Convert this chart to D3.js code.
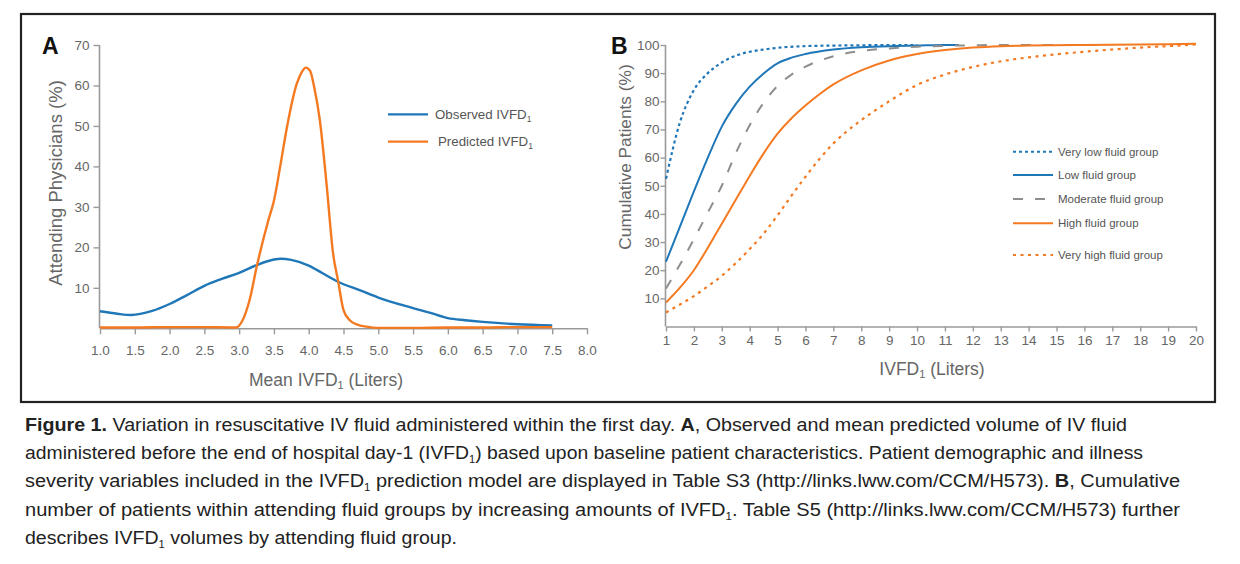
<!DOCTYPE html>
<html><head><meta charset="utf-8">
<script src="https://cdn.jsdelivr.net/npm/d3@7"></script>
<style>body{margin:0;background:#fff}svg{display:block}text{font-family:"Liberation Sans",Arial,sans-serif}</style>
</head><body><svg id="c" width="1240" height="564"></svg>
<script>
// Panel A data
const aXTicks = [1.0,1.5,2.0,2.5,3.0,3.5,4.0,4.5,5.0,5.5,6.0,6.5,7.0,7.5,8.0];
const aYTicks = [10,20,30,40,50,60,70];
const observedX = [1.0,1.25,1.45,1.75,2.0,2.25,2.5,2.75,3.0,3.25,3.5,3.6,3.75,4.0,4.2,4.42,4.75,5.0,5.5,5.75,6.0,6.25,6.5,7.0,7.5];
const observedY = [4.2,3.6,3.3,4.3,6.0,8.2,10.5,12.2,13.7,15.6,17.0,17.2,16.9,15.5,13.6,11.5,9.3,7.6,5.0,3.8,2.5,2.0,1.6,1.0,0.7];
const predictedX = [1.0,1.5,2.0,2.5,2.95,3.05,3.15,3.26,3.42,3.5,3.6,3.68,3.83,3.9,3.96,4.02,4.08,4.16,4.26,4.35,4.42,4.5,4.59,4.7,4.83,5.0,5.5,6.0,6.5,7.0,7.5];
const predictedY = [0.2,0.2,0.3,0.3,0.2,2.0,7.0,15.8,26.7,31.5,41,49,60.5,63.3,64.4,63.6,59.5,51.4,35,18.5,11.9,4.5,2.0,0.9,0.4,0.1,0.1,0.2,0.2,0.3,0.3];
const aSeries = ["Observed IVFD","Predicted IVFD"];

// Panel B data
const bXTicks = [1,2,3,4,5,6,7,8,9,10,11,12,13,14,15,16,17,18,19,20];
const bYTicks = [10,20,30,40,50,60,70,80,90,100];
const bGroups = ["Very low fluid group","Low fluid group","Moderate fluid group","High fluid group","Very high fluid group"];
const veryLowX = [1,1.5,2,2.5,3,3.5,4,4.5,5,6,7,8,9,10];
const veryLowY = [52.5,72.5,84,90,93.8,96.2,97.6,98.4,99.0,99.6,99.8,99.9,100,100];
const lowX = [1,1.5,2,2.5,3,3.5,4,4.5,5,5.5,6,7,8,9,10,11,11.5];
const lowY = [23,35.5,48,60,71,79,85.2,89.9,93.5,95.5,96.8,98.4,99.2,99.6,99.8,100,100];
const moderateX = [1,1.5,2,2.5,3,3.5,4,4.5,5,5.5,6,7,8,9,10,11,12,13,14,15,16,16.6];
const moderateY = [13.5,22,31,40.5,50,61.5,71.5,79.5,85.5,89.5,92.3,96,97.9,98.8,99.4,99.7,99.9,100,100,100,100,100];
const highX = [1,1.5,2,2.5,3,3.5,4,4.5,5,5.5,6,6.5,7,8,9,10,11,12,13,14,16,18,20];
const highY = [8.5,13.8,20,28,36.5,45,53.5,61.5,68.5,74,78.5,82.5,86,91,94.5,96.8,98.2,99.1,99.6,99.8,100,100.2,100.4];
const veryHighX = [1,1.5,2,2.5,3,3.5,4,4.5,5,5.5,6,6.5,7,7.5,8,9,10,11,12,13,14,15,16,17,18,19,20];
const veryHighY = [5,7.8,10.8,14.3,18,22.5,27.5,33,39.5,46.5,53.2,59.5,65,69.5,73.3,80,85.8,89.5,92.2,94.2,95.6,96.7,97.6,98.4,99.1,99.6,100.2];

const captionLines = [
 [["b","Figure 1."],["n"," Variation in resuscitative IV fluid administered within the first day. "],["b","A"],["n",", Observed and mean predicted volume of IV fluid"]],
 [["n","administered before the end of hospital day-1 (IVFD"],["s","1"],["n",") based upon baseline patient characteristics. Patient demographic and illness"]],
 [["n","severity variables included in the IVFD"],["s","1"],["n"," prediction model are displayed in Table S3 (http://links.lww.com/CCM/H573). "],["b","B"],["n",", Cumulative"]],
 [["n","number of patients within attending fluid groups by increasing amounts of IVFD"],["s","1"],["n",". Table S5 (http://links.lww.com/CCM/H573) further"]],
 [["n","describes IVFD"],["s","1"],["n"," volumes by attending fluid group."]]
];
const captionWidths = [1102,1118,1155,1155,432];

const svg = d3.select("#c");
const BLUE = "#1f77b8", ORANGE = "#f47a22", GRAY = "#8e8e8e", AX = "#9a9a9a", TXT = "#666";

svg.append("rect").attr("x",21).attr("y",14).attr("width",1194).attr("height",388)
  .attr("fill","#fff").attr("stroke","#222").attr("stroke-width",2.2);

function sub(t, main, s, size){
  t.append("tspan").text(main);
  t.append("tspan").text(s).attr("font-size",size).attr("dy",3);
}

// ---------- Panel A ----------
const ax = d3.scaleLinear().domain([1,8]).range([100,587]);
const ay = d3.scaleLinear().domain([0,70]).range([328.3,45]);
const gA = svg.append("g");
const xa = gA.append("g").attr("transform","translate(0,328.3)")
  .call(d3.axisBottom(ax).tickValues(aXTicks).tickFormat(d3.format(".1f")).tickSize(6).tickPadding(11).tickSizeOuter(0));
const ya = gA.append("g").attr("transform","translate(99.5,0)")
  .call(d3.axisLeft(ay).tickValues(aYTicks).tickSize(6).tickPadding(4).tickSizeOuter(0));
[xa,ya].forEach(g=>{
  g.select(".domain").attr("stroke",AX).attr("stroke-width",1.6);
  g.selectAll(".tick line").attr("stroke",AX).attr("stroke-width",1.4);
  g.selectAll(".tick text").attr("fill",TXT).attr("font-size",13.5).attr("font-family","Liberation Sans, Arial, sans-serif");
});
ya.select(".domain").attr("d","M0,328.3V45");

const lineA = d3.line().x(d=>ax(d[0])).y(d=>ay(d[1])).curve(d3.curveMonotoneX);
gA.append("path").datum(observedX.map((x,i)=>[x,observedY[i]]))
  .attr("d",lineA).attr("fill","none").attr("stroke",BLUE).attr("stroke-width",2.4);
gA.append("path").datum(predictedX.map((x,i)=>[x,predictedY[i]]))
  .attr("d",lineA).attr("fill","none").attr("stroke",ORANGE).attr("stroke-width",2.4);

gA.append("text").attr("x",42).attr("y",54).attr("font-size",23).attr("font-weight","bold").attr("fill","#111").text("A");
let t = gA.append("text").attr("x",326).attr("y",386).attr("text-anchor","middle").attr("font-size",17.5).attr("fill",TXT);
sub(t,"Mean IVFD","1",11); t.append("tspan").attr("dy",-3).text(" (Liters)");
gA.append("text").attr("transform","translate(62,183) rotate(-90)").attr("text-anchor","middle")
  .attr("font-size",18.5).attr("fill",TXT).text("Attending Physicians (%)");

const legA = [[BLUE,114.3,435],[ORANGE,141.7,438]];
legA.forEach((L,i)=>{
  gA.append("line").attr("x1",388).attr("x2",428).attr("y1",L[1]).attr("y2",L[1]).attr("stroke",L[0]).attr("stroke-width",2.2);
  const tt = gA.append("text").attr("x",L[2]).attr("y",L[1]+4.5).attr("font-size",13.3).attr("fill","#555");
  sub(tt,aSeries[i],"1",8.5);
});

// ---------- Panel B ----------
const bx = d3.scaleLinear().domain([1,20]).range([666,1196]);
const by = d3.scaleLinear().domain([0,100]).range([326.5,45]);
const gB = svg.append("g");
const xb = gB.append("g").attr("transform","translate(0,326.5)")
  .call(d3.axisBottom(bx).tickValues(bXTicks).tickSize(5).tickPadding(4).tickSizeOuter(0));
const yb = gB.append("g").attr("transform","translate(665.5,0)")
  .call(d3.axisLeft(by).tickValues(bYTicks).tickSize(5).tickPadding(1).tickSizeOuter(0));
[xb,yb].forEach(g=>{
  g.select(".domain").attr("stroke",AX).attr("stroke-width",1.6);
  g.selectAll(".tick line").attr("stroke",AX).attr("stroke-width",1.4);
  g.selectAll(".tick text").attr("fill",TXT).attr("font-size",13.5).attr("font-family","Liberation Sans, Arial, sans-serif");
});
yb.select(".domain").attr("d","M0,326.5V45");

const lineB = d3.line().x(d=>bx(d[0])).y(d=>by(d[1])).curve(d3.curveMonotoneX);
const bData = [[veryLowX,veryLowY],[lowX,lowY],[moderateX,moderateY],[highX,highY],[veryHighX,veryHighY]];
const bStyle = [
  {c:BLUE,w:2.2,d:"3,3"},
  {c:BLUE,w:2,d:null},
  {c:GRAY,w:2,d:"10,12"},
  {c:ORANGE,w:2,d:null},
  {c:ORANGE,w:2.2,d:"3,4.5"}
];
bData.forEach((D,i)=>{
  const p = gB.append("path").datum(D[0].map((x,j)=>[x,D[1][j]]))
    .attr("d",lineB).attr("fill","none").attr("stroke",bStyle[i].c).attr("stroke-width",bStyle[i].w);
  if(bStyle[i].d) p.attr("stroke-dasharray",bStyle[i].d);
});

gB.append("text").attr("x",611).attr("y",54).attr("font-size",23).attr("font-weight","bold").attr("fill","#111").text("B");
t = gB.append("text").attr("x",932).attr("y",375).attr("text-anchor","middle").attr("font-size",17.5).attr("fill",TXT);
sub(t,"IVFD","1",11); t.append("tspan").attr("dy",-3).text(" (Liters)");
gB.append("text").attr("transform","translate(631,157) rotate(-90)").attr("text-anchor","middle")
  .attr("font-size",17.3).attr("fill",TXT).text("Cumulative Patients (%)");

const legBY = [151.7,175,199,223.3,255];
const legBDash = ["3,3",null,"10,12",null,"3,4.5"];
bGroups.forEach((g,i)=>{
  const l = gB.append("line").attr("x1",1013).attr("x2",1053).attr("y1",legBY[i]).attr("y2",legBY[i])
    .attr("stroke",bStyle[i].c).attr("stroke-width",2);
  if(legBDash[i]) l.attr("stroke-dasharray",legBDash[i]);
  gB.append("text").attr("x",1058).attr("y",legBY[i]+4).attr("font-size",11.5).attr("fill","#555").text(g);
});

// ---------- Caption ----------
captionLines.forEach((line,i)=>{
  const tx = svg.append("text").attr("x",25).attr("y",431+i*28.2).attr("font-size",17.5).attr("fill","#222")
    .attr("textLength",captionWidths[i]).attr("lengthAdjust","spacingAndGlyphs");
  let shifted = false;
  line.forEach(seg=>{
    const sp = tx.append("tspan").text(seg[1]);
    if(seg[0]==="b") sp.attr("font-weight","bold");
    if(seg[0]==="s"){ sp.attr("font-size",10).attr("dy",4); shifted = true; }
    else if(shifted){ sp.attr("dy",-4); shifted = false; }
  });
});
</script></body></html>
